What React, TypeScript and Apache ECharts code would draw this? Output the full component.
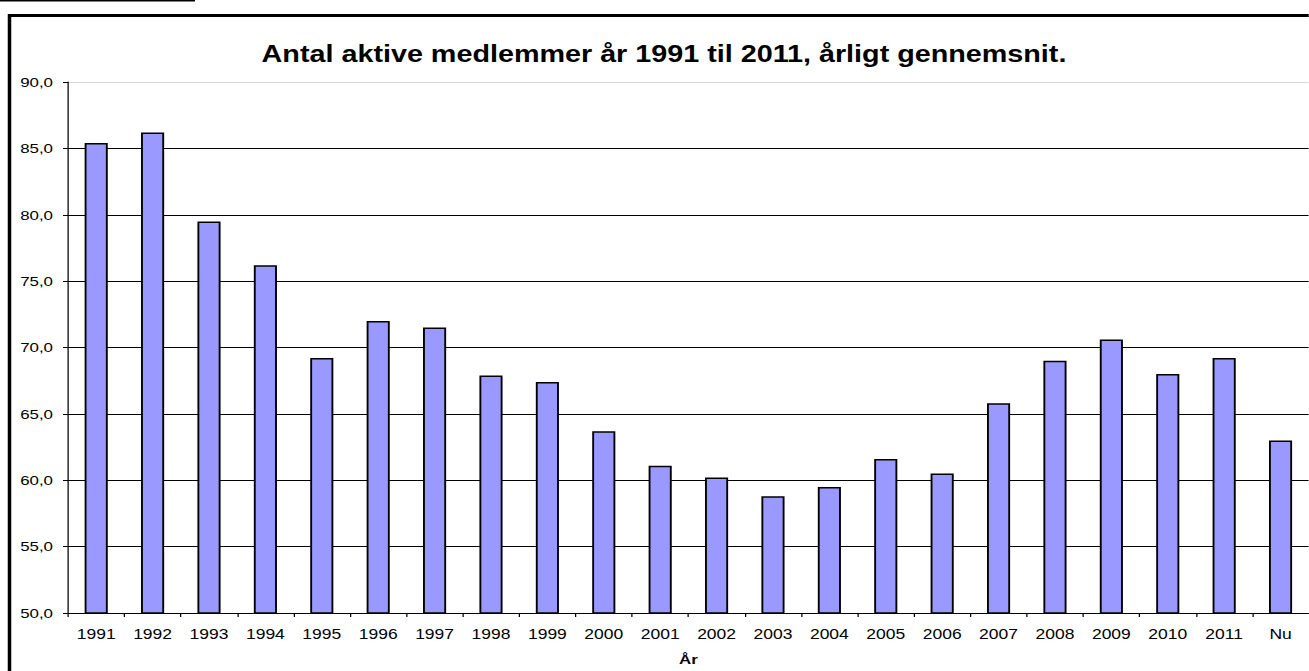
import React, { useEffect, useRef } from "react";
import * as echarts from "echarts";

const categories = ["1991","1992","1993","1994","1995","1996","1997","1998","1999","2000","2001","2002","2003","2004","2005","2006","2007","2008","2009","2010","2011","Nu"];
const members = [85.4, 86.2, 79.5, 76.2, 69.2, 72.0, 71.5, 67.9, 67.4, 63.7, 61.1, 60.2, 58.8, 59.5, 61.6, 60.5, 65.8, 69.0, 70.6, 68.0, 69.2, 63.0];
const yMin = 50;
const yMax = 90;
const yStep = 5;
const titleText = "Antal aktive medlemmer år 1991 til 2011, årligt gennemsnit.";
const xName = "År";

// The reference picture is horizontally stretched; draw in a narrower box and stretch it.
const STRETCH = 1.25;
const PAGE_W = 1309;
const PAGE_H = 671;

export default function App() {
  const ref = useRef<HTMLDivElement>(null);
  useEffect(() => {
    if (!ref.current) return;
    const chart = echarts.init(ref.current, null, { renderer: "svg" });
    const font = "Liberation Sans, Arial, sans-serif";
    const W = PAGE_W / STRETCH;
    const fx = 9.5 / STRETCH;
    chart.setOption({
      animation: false,
      backgroundColor: "#fff",
      grid: { left: 68 / STRETCH, right: 0, top: 82, bottom: 56, containLabel: false },
      xAxis: {
        type: "category",
        data: categories,
        name: xName,
        nameLocation: "middle",
        nameGap: 39,
        nameTextStyle: { fontFamily: font, fontSize: 13.5, fontWeight: "bold", color: "#000" },
        axisLine: { lineStyle: { color: "#000", width: 1 } },
        axisTick: { show: true, length: 4, lineStyle: { color: "#000" } },
        axisLabel: { fontFamily: font, fontSize: 14, color: "#000", margin: 14, interval: 0 },
      },
      yAxis: {
        type: "value",
        min: yMin,
        max: yMax,
        interval: yStep,
        axisLine: { show: true, lineStyle: { color: "#000", width: 1 } },
        axisTick: { show: true, length: 4, lineStyle: { color: "#000" } },
        axisLabel: {
          fontFamily: font,
          fontSize: 13.5,
          color: "#000",
          margin: 12,
          formatter: (v: number) => v.toFixed(1).replace(".", ","),
        },
        splitLine: {
          show: true,
          lineStyle: {
            color: ["#000", "#000", "#000", "#000", "#000", "#000", "#000", "#000", "#d8d8d8"],
            width: 1,
          },
        },
      },
      series: [
        {
          type: "bar",
          data: members,
          barWidth: "41%",
          itemStyle: { color: "#9999FF", borderColor: "#000", borderWidth: 1.5 },
        },
      ],
      graphic: [
        {
          type: "line",
          shape: { x1: fx, y1: 14.1, x2: fx, y2: PAGE_H },
          style: { stroke: "#000", lineWidth: 2.8 },
          z: 100,
        },
        {
          type: "line",
          shape: { x1: fx - 1.2, y1: 15.5, x2: W, y2: 15.5 },
          style: { stroke: "#000", lineWidth: 2.8 },
          z: 100,
        },
        {
          type: "line",
          shape: { x1: 0, y1: 0.5, x2: 195 / STRETCH, y2: 0.5 },
          style: { stroke: "#000", lineWidth: 2 },
          z: 100,
        },
        {
          type: "text",
          x: 664 / STRETCH,
          y: 54,
          style: {
            text: titleText,
            fontFamily: font,
            fontSize: 23,
            fontWeight: "bold",
            fill: "#000",
            textAlign: "center",
            textVerticalAlign: "middle",
          },
          z: 100,
        },
      ],
    });
    return () => chart.dispose();
  }, []);
  return (
    <div
      ref={ref}
      style={{
        position: "fixed",
        left: 0,
        top: 0,
        width: PAGE_W / STRETCH,
        height: PAGE_H,
        background: "#fff",
        transform: `scaleX(${STRETCH})`,
        transformOrigin: "0 0",
      }}
    />
  );
}
